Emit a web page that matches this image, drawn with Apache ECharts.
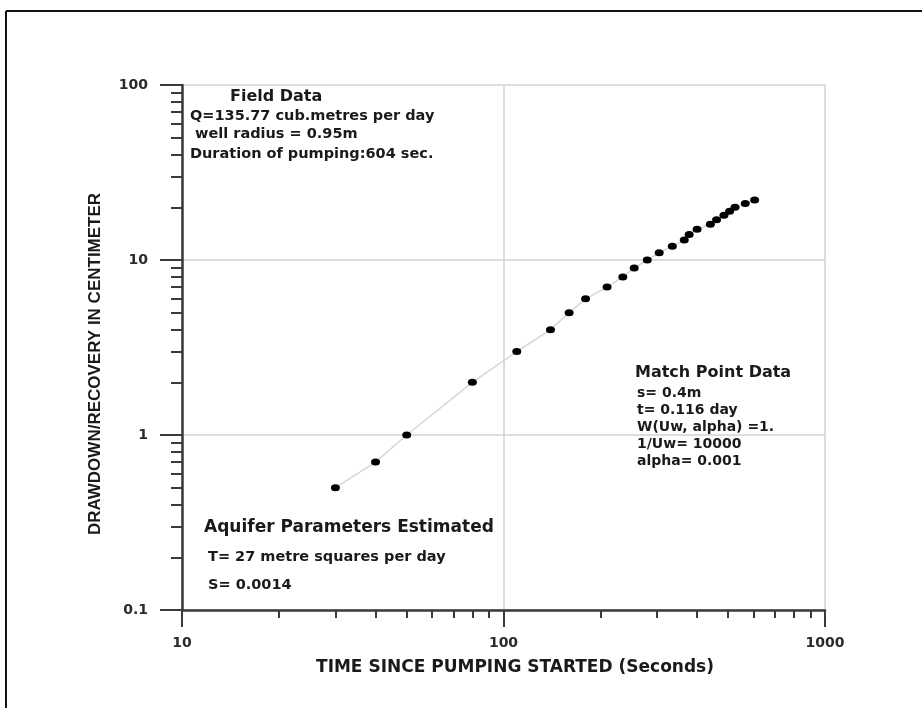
<!DOCTYPE html>
<html>
<head>
<meta charset="utf-8">
<script src="https://cdn.jsdelivr.net/npm/echarts@6/dist/echarts.min.js"></script>
<style>
html,body{margin:0;padding:0;background:#fff;}
#chart{width:922px;height:708px;}
</style>
</head>
<body>
<div id="chart"></div>
<script>
// ---- data ----
const times = [30, 40, 50, 80, 110, 140, 160, 180, 210, 235, 255, 280, 305, 335, 365, 378, 400, 440, 460, 485, 505, 525, 565, 604];
const drawdown = [0.5, 0.7, 1, 2, 3, 4, 5, 6, 7, 8, 9, 10, 11, 12, 13, 14, 15, 16, 17, 18, 19, 20, 21, 22];

const xMajorTicks = [10, 100, 1000];
const xMajorLabels = ['10', '100', '1000'];
const xMinorTicks = [20, 30, 40, 50, 60, 70, 80, 90, 200, 300, 400, 500, 600, 700, 800, 900];
const yMajorTicks = [0.1, 1, 10, 100];
const yMajorLabels = ['0.1', '1', '10', '100'];
const yMinorTicks = [0.2, 0.3, 0.4, 0.5, 0.6, 0.7, 0.8, 0.9, 2, 3, 4, 5, 6, 7, 8, 9, 20, 30, 40, 50, 60, 70, 80, 90];

const xTitle = 'TIME SINCE PUMPING STARTED (Seconds)';
const yTitle = 'DRAWDOWN/RECOVERY IN CENTIMETER';
const fieldTitle = 'Field Data';
const fieldLines = ['Q=135.77 cub.metres per day', ' well radius = 0.95m', 'Duration of pumping:604 sec.'];
const matchTitle = 'Match Point Data';
const matchLines = ['s= 0.4m', 't= 0.116 day', 'W(Uw, alpha) =1.', '1/Uw= 10000', 'alpha= 0.001'];
const aquiferTitle = 'Aquifer Parameters Estimated';
const aquiferLines = ['T= 27 metre squares per day', 'S= 0.0014'];

// ---- chart ----
const chart = echarts.init(document.getElementById('chart'), null, {renderer: 'canvas'});
const axisColor = '#3a3a3a';
const gridColor = '#d2d2d2';
const FONT = '"DejaVu Sans", sans-serif';

function labelFor(values, labels) {
  return function (v) {
    for (let i = 0; i < values.length; i++) {
      if (Math.abs(Math.log10(v) - Math.log10(values[i])) < 1e-6) return labels[i];
    }
    return '';
  };
}

function txt(text, x, y, size, opts) {
  opts = opts || {};
  return {
    type: 'text',
    x: x, y: y,
    rotation: opts.rotation || 0,
    style: {
      text: text,
      fill: opts.fill || '#1a1a1a',
      fontFamily: opts.family || FONT,
      fontWeight: opts.weight || 'bold',
      fontSize: size,
      align: opts.align || 'left',
      verticalAlign: 'middle'
    },
    silent: true
  };
}

const graphics = [
  {type: 'line', shape: {x1: 6, y1: 11, x2: 922, y2: 11}, style: {stroke: '#111', lineWidth: 2}, silent: true},
  {type: 'line', shape: {x1: 6, y1: 11, x2: 6, y2: 708}, style: {stroke: '#111', lineWidth: 2}, silent: true},
  txt(fieldTitle, 230, 97, 16),
  txt(fieldLines[0], 190, 116, 14.5),
  txt(fieldLines[1], 190, 134, 14.5),
  txt(fieldLines[2], 190, 154, 14.5),
  txt(matchTitle, 635, 373, 16),
  txt(matchLines[0], 637, 393, 14),
  txt(matchLines[1], 637, 410, 14),
  txt(matchLines[2], 637, 427, 14),
  txt(matchLines[3], 637, 444, 14),
  txt(matchLines[4], 637, 461, 14),
  txt(aquiferTitle, 204, 528, 17),
  txt(aquiferLines[0], 208, 557, 14.5),
  txt(aquiferLines[1], 208, 585, 14.5),
  txt(xTitle, 515, 668, 17, {align: 'center'}),
  txt(yTitle, 95, 364, 17, {rotation: Math.PI / 2, align: 'center', family: '"Liberation Sans", Arial, sans-serif'})
];

const option = {
  backgroundColor: '#ffffff',
  animation: false,
  grid: {left: 182, top: 85, right: 97, bottom: 98, containLabel: false},
  xAxis: [
    {
      type: 'log', logBase: 10, min: 10, max: 1000, position: 'bottom',
      axisLine: {show: true, onZero: false, lineStyle: {color: axisColor, width: 2.5}},
      axisTick: {show: true, inside: false, length: 17, customValues: xMajorTicks, lineStyle: {color: axisColor, width: 2}},
      axisLabel: {show: true, margin: 26, customValues: xMajorTicks, formatter: labelFor(xMajorTicks, xMajorLabels),
        color: '#2a2a2a', fontFamily: FONT, fontWeight: 'bold', fontSize: 14},
      splitLine: {show: true, lineStyle: {color: gridColor, width: 1.5}},
      minorTick: {show: false}
    },
    {
      type: 'log', logBase: 10, min: 10, max: 1000, position: 'bottom',
      axisLine: {show: false},
      axisTick: {show: true, inside: false, length: 8, customValues: xMinorTicks, lineStyle: {color: axisColor, width: 2}},
      axisLabel: {show: false},
      splitLine: {show: false}
    }
  ],
  yAxis: [
    {
      type: 'log', logBase: 10, min: 0.1, max: 100, position: 'left',
      axisLine: {show: true, onZero: false, lineStyle: {color: axisColor, width: 2.5}},
      axisTick: {show: true, inside: false, length: 22, customValues: yMajorTicks, lineStyle: {color: axisColor, width: 2}},
      axisLabel: {show: true, margin: 34, customValues: yMajorTicks, formatter: labelFor(yMajorTicks, yMajorLabels),
        color: '#2a2a2a', fontFamily: FONT, fontWeight: 'bold', fontSize: 14},
      splitLine: {show: true, lineStyle: {color: gridColor, width: 1.5}}
    },
    {
      type: 'log', logBase: 10, min: 0.1, max: 100, position: 'left',
      axisLine: {show: false},
      axisTick: {show: true, inside: false, length: 11, customValues: yMinorTicks, lineStyle: {color: axisColor, width: 2}},
      axisLabel: {show: false},
      splitLine: {show: false}
    }
  ],
  series: [
    {
      type: 'line',
      xAxisIndex: 0, yAxisIndex: 0,
      data: times.map((t, i) => [t, drawdown[i]]),
      symbol: 'circle',
      symbolSize: [9, 7],
      itemStyle: {color: '#000000'},
      lineStyle: {color: '#d6d6d6', width: 1.5},
      z: 5
    }
  ],
  graphic: graphics
};
chart.setOption(option);
</script>
</body>
</html>
